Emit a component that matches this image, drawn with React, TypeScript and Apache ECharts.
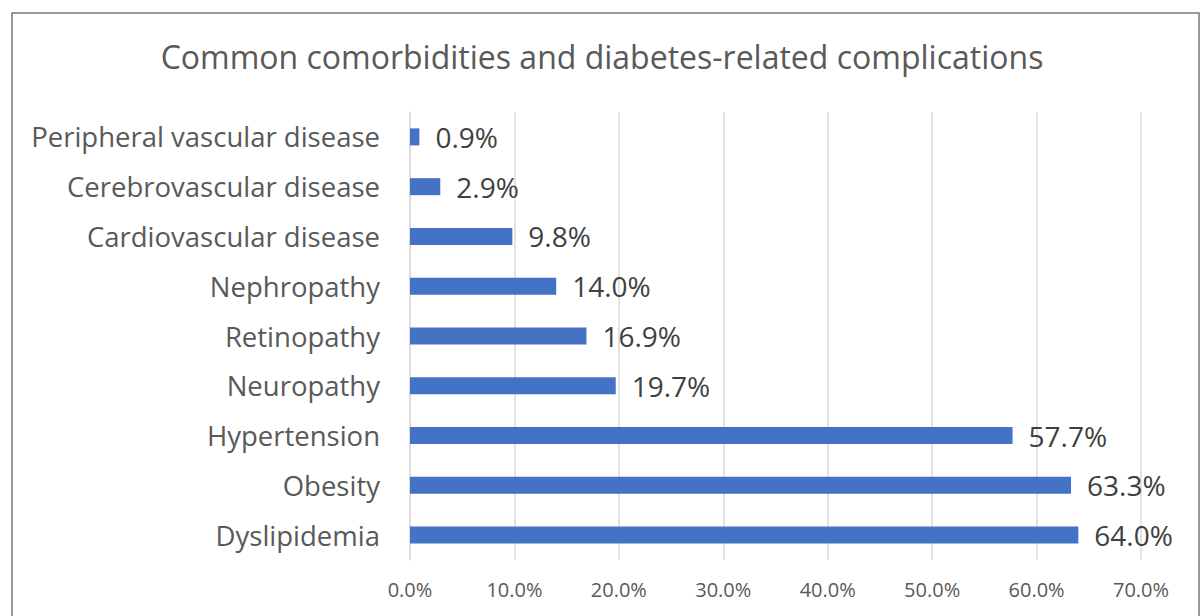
import React, { useEffect, useRef } from "react";
import * as echarts from "echarts";

const categories = [
  "Peripheral vascular disease",
  "Cerebrovascular disease",
  "Cardiovascular disease",
  "Nephropathy",
  "Retinopathy",
  "Neuropathy",
  "Hypertension",
  "Obesity",
  "Dyslipidemia",
];
const values = [0.9, 2.9, 9.8, 14.0, 16.9, 19.7, 57.7, 63.3, 64.0];
const titleText = "Common comorbidities and diabetes-related complications";
const FONT = "Open Sans";

export default function App() {
  const ref = useRef<HTMLDivElement>(null);
  useEffect(() => {
    if (!ref.current) return;
    const chart = echarts.init(ref.current, null, { renderer: "svg" });
    chart.setOption({
      animation: false,
      backgroundColor: "#ffffff",
      textStyle: { fontFamily: FONT },
      title: {
        text: titleText,
        left: "center",
        top: 35,
        textStyle: { fontFamily: FONT, fontSize: 32, fontWeight: "normal", color: "#595959" },
      },
      graphic: [
        {
          type: "rect",
          shape: { x: 12, y: 13, width: 1187, height: 640 },
          style: { fill: "none", stroke: "#7a7a7a", lineWidth: 1.5 },
          silent: true,
        },
      ],
      grid: { left: 410, right: 63, top: 112, bottom: 56, containLabel: false },
      xAxis: {
        type: "value",
        min: 0,
        max: 70,
        interval: 10,
        axisLine: { show: false },
        axisTick: { show: false },
        splitLine: { show: true, lineStyle: { color: "#d9d9d9", width: 1.5 } },
        axisLabel: {
          formatter: (v: number) => v.toFixed(1) + "%",
          fontFamily: FONT,
          fontSize: 20,
          color: "#595959",
          margin: 19,
        },
      },
      yAxis: {
        type: "category",
        data: categories,
        inverse: true,
        axisLine: { show: true, lineStyle: { color: "#d9d9d9", width: 1.5 } },
        axisTick: { show: false },
        axisLabel: {
          fontFamily: FONT,
          fontSize: 27.5,
          color: "#595959",
          margin: 30,
        },
      },
      series: [
        {
          type: "bar",
          data: values,
          barWidth: 17,
          itemStyle: { color: "#4472C4" },
          label: {
            show: true,
            position: "right",
            distance: 16,
            formatter: (p: any) => Number(p.value).toFixed(1) + "%",
            fontFamily: FONT,
            fontSize: 28,
            color: "#404040",
          },
        },
      ],
    });
    return () => chart.dispose();
  }, []);
  return (
    <div
      ref={ref}
      style={{ position: "fixed", left: 0, top: 0, width: 1204, height: 616 }}
    />
  );
}
